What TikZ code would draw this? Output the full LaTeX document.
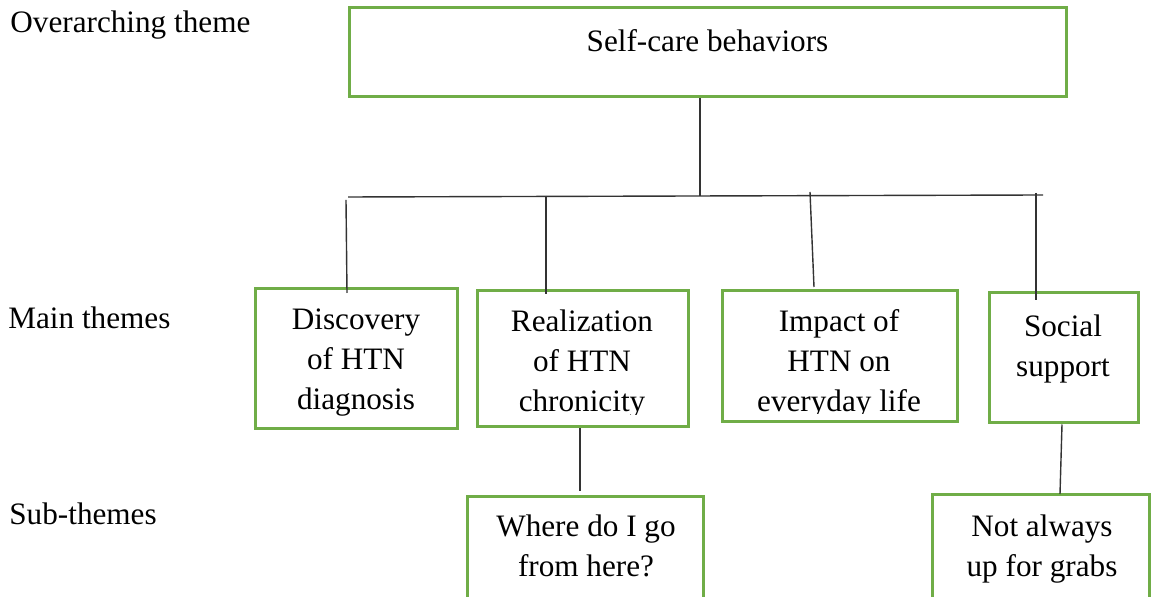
\documentclass[tikz,border=0pt]{standalone}
\usepackage{fontspec}
\setmainfont{Liberation Serif}
\usetikzlibrary{fit}
\definecolor{boxgreen}{HTML}{70AD47}
\definecolor{linegray}{HTML}{333333}
\tikzset{
  box/.style={draw=boxgreen, line width=1.5pt, inner sep=0pt, rectangle},
  txt/.style={inner sep=0pt, align=center, anchor=base, font=\fontsize{15.6}{20}\selectfont},
  lbl/.style={inner sep=0pt, anchor=base west, font=\fontsize{15.6}{20}\selectfont},
  conn/.style={draw=linegray, line width=0.7pt}
}
\begin{document}
\begin{tikzpicture}[x=0.5pt,y=-0.5pt]
\useasboundingbox (0,0) rectangle (1152,597);
\fill[white] (0,0) rectangle (1152,597);
\clip (0,0) rectangle (1152,597);

% left labels
\node[lbl] (l1) at (10,33) {Overarching theme};
\node[lbl] (l2) at (8,329) {Main themes};
\node[lbl] (l3) at (9,525) {Sub-themes};

% boxes
\node[box, fit={(349,8) (1066,97)}] (top) {};
\node[box, fit={(255,289) (457,429)}] (disc) {};
\node[box, fit={(477,291) (688,427)}] (real) {};
\node[box, fit={(722,291) (957,422)}] (imp) {};
\node[box, fit={(989,293) (1138,423)}] (soc) {};
\node[box, fit={(467,497) (703,640)}] (where) {};
\node[box, fit={(932,495) (1149,640)}] (notal) {};

% texts (anchor base = baseline of last line)
\node[txt] (ttop) at (707.5,52) {Self-care behaviors};
\node[txt] (tdisc) at (356,410) {Discovery\\of HTN\\diagnosis};
\begin{scope}
\clip (477,291) rectangle (688,415);
\node[txt] (treal) at (582,412) {Realization\\of HTN\\chronicity};
\end{scope}
\begin{scope}
\clip (722,291) rectangle (957,413.5);
\node[txt] (timp) at (839,412) {Impact of\\HTN on\\everyday life};
\end{scope}
\node[txt] (tsoc) at (1063,377) {Social\\support};
\node[txt] (twhere) at (586,577) {Where do I go\\from here?};
\node[txt] (tnotal) at (1042,577) {Not always\\up for grabs};

% connectors
\coordinate (bus) at (700,196);
\coordinate (busl) at (348,197);
\coordinate (busr) at (1043,195);
\draw[conn] (top.south -| bus) -- (bus);
\draw[conn] (busl) -- (busr);

\coordinate (d1a) at (346,200);
\coordinate (d1b) at (347,293);
\coordinate (d2a) at (546,196);
\coordinate (d2b) at (546,294);
\coordinate (d3a) at (810,192);
\coordinate (d3b) at (814,287);
\coordinate (d4a) at (1036,193);
\coordinate (d4b) at (1036,300);
\draw[conn] (d1a) -- (d1b);
\draw[conn] (d2a) -- (d2b);
\draw[conn] (d3a) -- (d3b);
\draw[conn] (d4a) -- (d4b);

\coordinate (s1b) at (580,491);
\coordinate (s2b) at (1060,494);
\draw[conn] (real.south -| s1b) -- (s1b);
\draw[conn] (soc.south -| 1062,0) -- (s2b);
\end{tikzpicture}
\end{document}
